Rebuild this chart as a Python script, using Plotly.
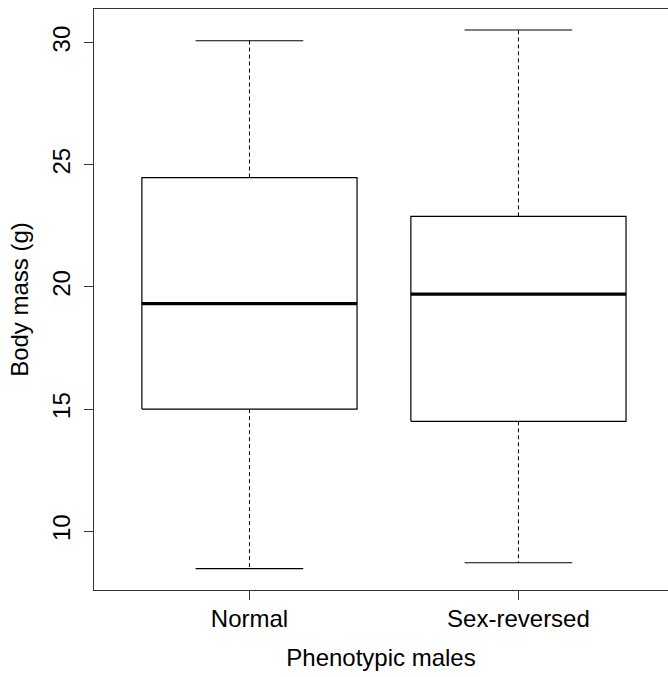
import plotly.graph_objects as go

# Body mass summary per phenotypic male group (g)
groups = ["Normal", "Sex-reversed"]
whisker_low = [8.47, 8.71]
q1 = [15.0, 14.50]
median = [19.32, 19.71]
q3 = [24.48, 22.89]
whisker_high = [30.08, 30.52]

BOX_HALF = 0.4
CAP_HALF = 0.2
FONT = "Liberation Sans, Arial, sans-serif"

fig = go.Figure()

for i, name in enumerate(groups):
    x = i + 1
    # box outline
    fig.add_trace(go.Scatter(
        x=[x - BOX_HALF, x + BOX_HALF, x + BOX_HALF, x - BOX_HALF, x - BOX_HALF],
        y=[q1[i], q1[i], q3[i], q3[i], q1[i]],
        mode="lines", line=dict(color="black", width=1.2),
        hoverinfo="skip", showlegend=False))
    # median
    fig.add_trace(go.Scatter(
        x=[x - BOX_HALF, x + BOX_HALF], y=[median[i], median[i]],
        mode="lines", line=dict(color="black", width=3.2),
        hoverinfo="skip", showlegend=False))
    # dashed whiskers
    fig.add_trace(go.Scatter(
        x=[x, x, None, x, x],
        y=[q3[i], whisker_high[i], None, q1[i], whisker_low[i]],
        mode="lines", line=dict(color="black", width=1, dash="4px,3px"),
        hoverinfo="skip", showlegend=False))
    # whisker caps
    fig.add_trace(go.Scatter(
        x=[x - CAP_HALF, x + CAP_HALF, None, x - CAP_HALF, x + CAP_HALF],
        y=[whisker_high[i], whisker_high[i], None, whisker_low[i], whisker_low[i]],
        mode="lines", line=dict(color="black", width=1.2),
        hoverinfo="skip", showlegend=False))

fig.update_layout(
    width=668, height=677,
    margin=dict(l=94, r=0, t=9, b=86.5),
    paper_bgcolor="white", plot_bgcolor="white",
    font=dict(family=FONT, size=24, color="black"),
    xaxis=dict(
        range=[0.422, 2.556], tickmode="array",
        tickvals=[i + 1 for i in range(len(groups))], ticktext=groups,
        showgrid=False, zeroline=False,
        showline=True, linecolor="#333", linewidth=1.2, mirror=True,
        ticks="outside", ticklen=9, tickcolor="#333", tickwidth=1.2,
        tickfont=dict(size=24), ticklabelstandoff=-2,
        title=dict(text="Phenotypic males", font=dict(size=24), standoff=18),
    ),
    yaxis=dict(
        range=[7.595, 31.38], tickmode="array",
        tickvals=[10, 15, 20, 25, 30], ticktext=["10", "15", "20", "25", "30"],
        tickangle=-90,
        showgrid=False, zeroline=False,
        showline=True, linecolor="#333", linewidth=1.2,
        ticks="outside", ticklen=9, tickcolor="#333", tickwidth=1.2,
        tickfont=dict(size=24), ticklabelstandoff=4,
        title=dict(text="Body mass (g)", font=dict(size=24), standoff=12),
    ),
)

fig.write_html("out.html")
